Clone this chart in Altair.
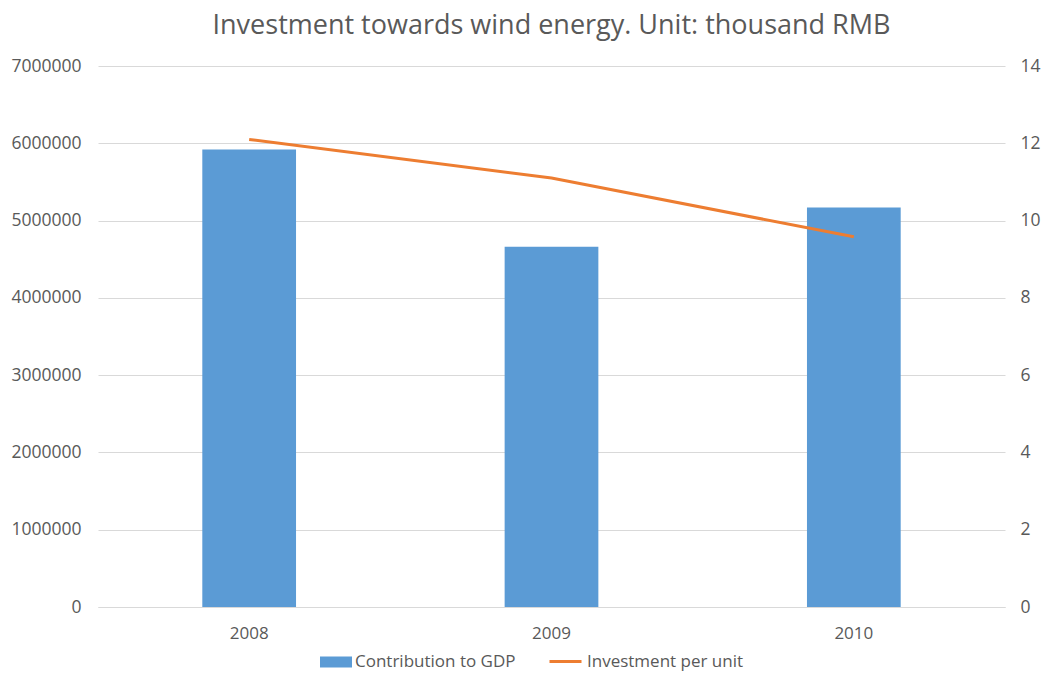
import altair as alt
import pandas as pd

years = ["2008", "2009", "2010"]
gdp = [5920000, 4660000, 5170000]
inv = [12.1, 11.1, 9.58]
bar_name = "Contribution to GDP"
line_name = "Investment per unit"

df = pd.DataFrame({"year": years, "gdp": gdp, "inv": inv,
                   "s1": [bar_name] * 3, "s2": [line_name] * 3})

FONT = "Open Sans"
GREY = "#595959"
LEG_Y = 586

x = alt.X("year:N", title=None,
          scale=alt.Scale(paddingInner=0.69, paddingOuter=0.345),
          axis=alt.Axis(labelAngle=0, labelFontSize=17, labelColor=GREY, labelFont=FONT,
                        domainColor="#d9d9d9", domainWidth=1, ticks=False, labelPadding=18))

bars = alt.Chart(df).mark_bar(color="#5b9bd5").encode(
    x=x,
    y=alt.Y("gdp:Q", title=None,
            scale=alt.Scale(domain=[0, 7000000], nice=False),
            axis=alt.Axis(values=list(range(0, 7000001, 1000000)), format="d",
                          labelFontSize=17.5, labelColor=GREY, labelFont=FONT,
                          domain=False, ticks=False, labelPadding=17,
                          gridColor="#d9d9d9", gridWidth=1)),
    color=alt.Color("s1:N", title=None,
                    scale=alt.Scale(domain=[bar_name], range=["#5b9bd5"]),
                    legend=alt.Legend(orient="none", legendX=228, legendY=LEG_Y,
                                      symbolType="M-1.6,-0.55L1.6,-0.55L1.6,0.55L-1.6,0.55Z",
                                      symbolSize=400, symbolStrokeWidth=0,
                                      symbolFillColor="#5b9bd5",
                                      labelFontSize=17, labelColor=GREY, labelFont=FONT,
                                      labelOffset=9, labelLimit=400)),
)

line = alt.Chart(df).mark_line(color="#ed7d31", strokeWidth=3).encode(
    x=x,
    y=alt.Y("inv:Q", title=None,
            scale=alt.Scale(domain=[0, 14], nice=False),
            axis=alt.Axis(orient="right", values=list(range(0, 15, 2)),
                          labelFontSize=17.5, labelColor=GREY, labelFont=FONT,
                          domain=False, ticks=False, labelPadding=15, grid=False)),
    stroke=alt.Stroke("s2:N", title=None,
                      scale=alt.Scale(domain=[line_name], range=["#ed7d31"]),
                      legend=alt.Legend(orient="none", legendX=450, legendY=LEG_Y - 8,
                                        symbolType="stroke", symbolSize=1024,
                                        symbolStrokeWidth=3,
                                        labelFontSize=17, labelColor=GREY, labelFont=FONT,
                                        labelOffset=4, labelLimit=400)),
)

chart = alt.layer(bars, line).resolve_scale(y="independent", color="independent").properties(
    width=907, height=541,
    title=alt.TitleParams("Investment towards wind energy. Unit: thousand RMB",
                          fontSize=27, font=FONT, color=GREY, fontWeight="normal",
                          anchor="middle", offset=17),
    autosize=alt.AutoSizeParams(type="none"),
    padding={"left": 90, "top": 58, "right": 37, "bottom": 65},
).configure_view(stroke=None)

chart.save("out.html", embed_options={"renderer": "svg", "actions": False})
